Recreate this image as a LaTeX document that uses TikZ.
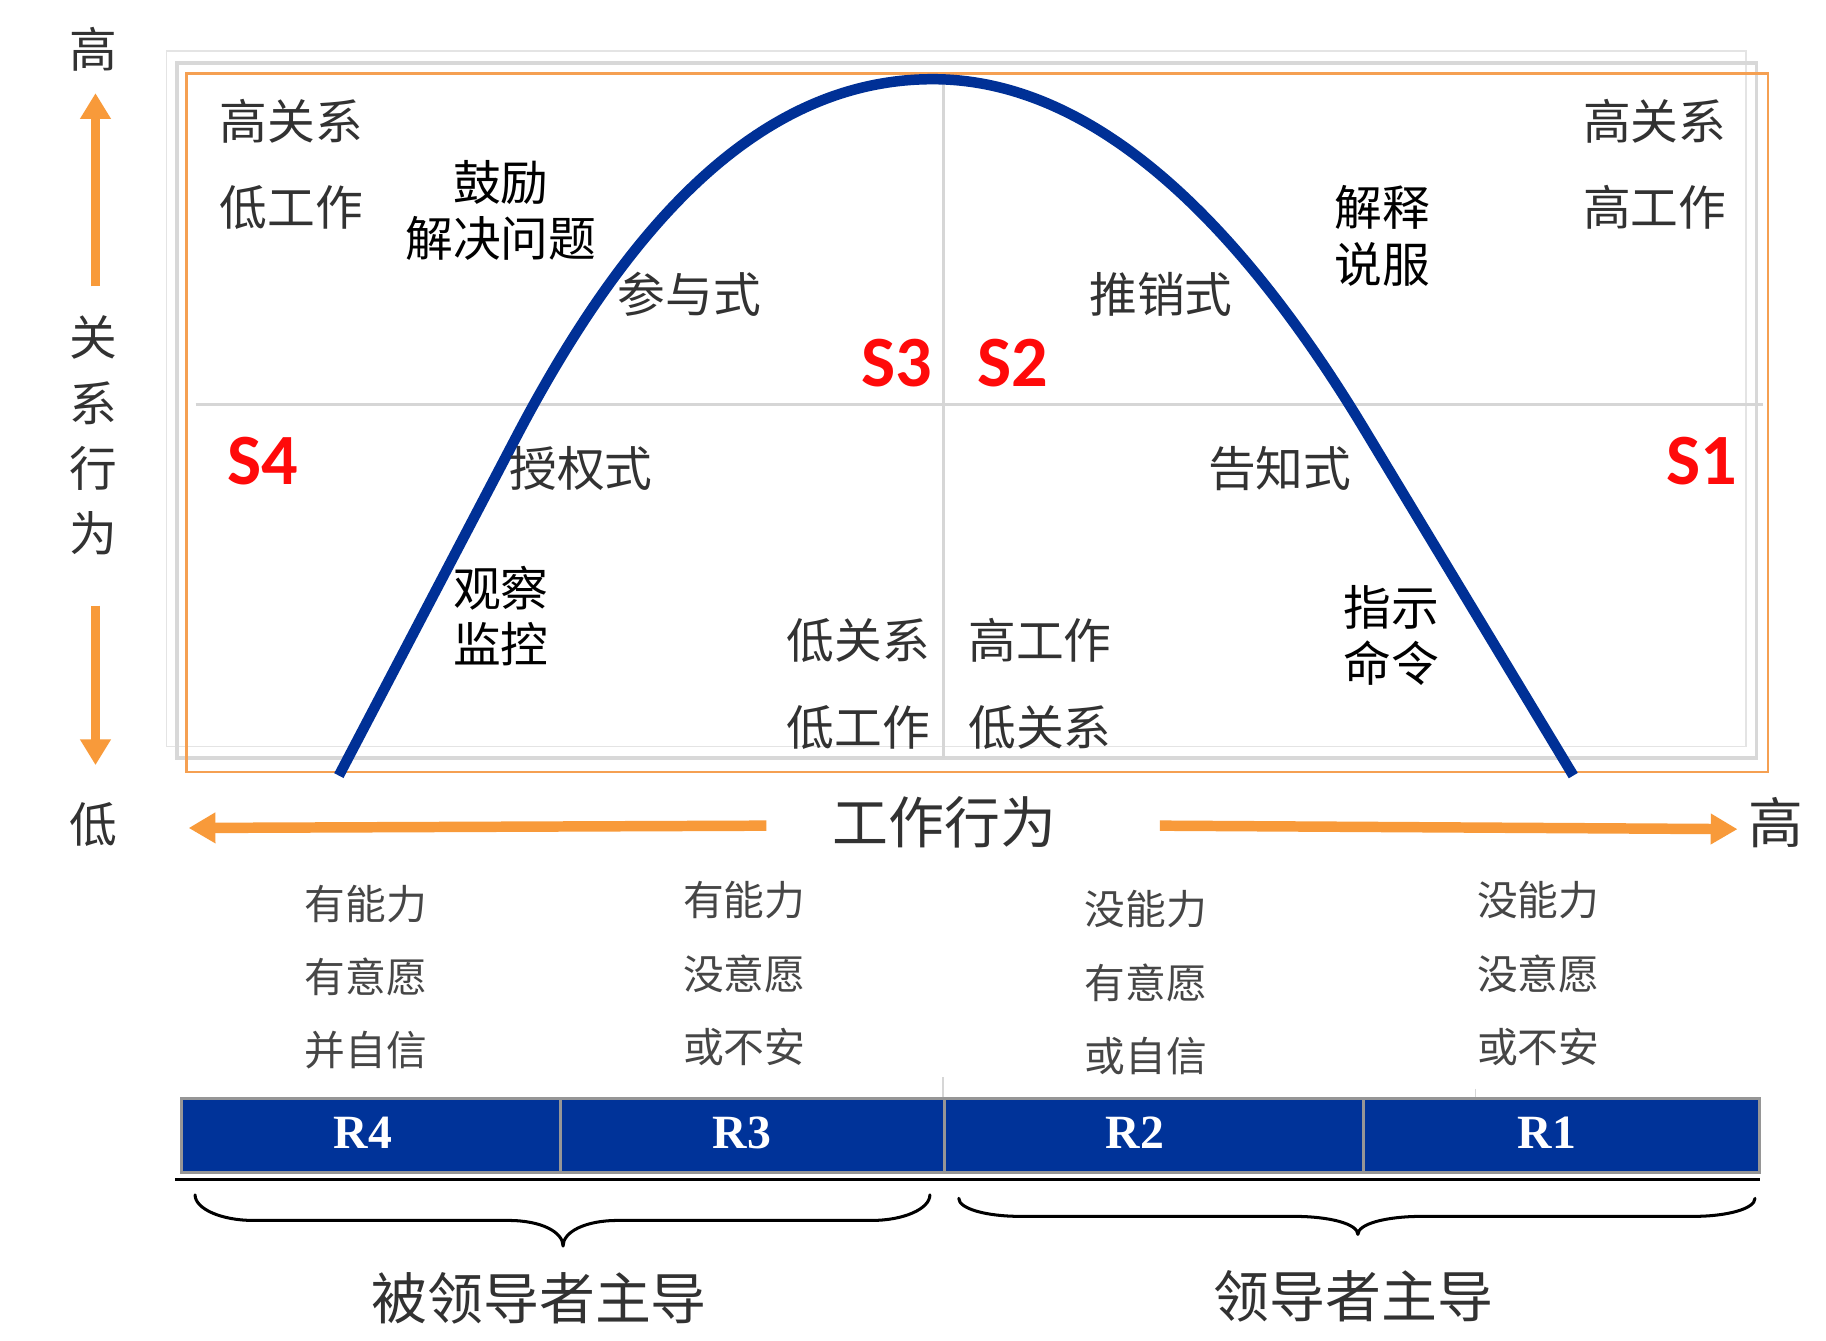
\documentclass[tikz,border=0pt]{standalone}
\usepackage{fontspec}
\usetikzlibrary{arrows.meta}
\newfontfamily\cjk{Noto Sans CJK SC}
\newfontfamily\sfnt{Carlito}
\newfontfamily\rfnt{Liberation Serif}
\definecolor{curveblue}{RGB}{0,48,150}
\definecolor{barblue}{RGB}{0,51,153}
\definecolor{barborder}{RGB}{150,150,150}
\definecolor{arroworange}{RGB}{248,154,58}
\definecolor{frameorange}{RGB}{245,160,82}
\definecolor{txtgray}{RGB}{50,50,50}
\definecolor{sred}{RGB}{255,10,10}
\definecolor{gridgray}{RGB}{214,214,214}
\definecolor{frameA}{RGB}{228,228,228}
\definecolor{frameB}{RGB}{216,216,216}
\begin{document}
\begin{tikzpicture}[x=1pt,y=-1pt,
  lab/.style={font=\cjk\fontsize{41}{41}\selectfont, text=txtgray, inner sep=0pt},
  blab/.style={font=\cjk\fontsize{41}{48}\selectfont, text=black, inner sep=0pt, align=center},
  small/.style={font=\cjk\fontsize{35}{63}\selectfont, text=txtgray!90, inner sep=0pt, align=center},
  big/.style={font=\cjk\fontsize{48}{48}\selectfont, text=txtgray, inner sep=0pt},
  slab/.style={font=\sfnt\bfseries\fontsize{62}{62}\selectfont, text=sred, inner sep=0pt},
  rlab/.style={font=\rfnt\bfseries\fontsize{41}{41}\selectfont, text=white, inner sep=0pt},
  rbar/.style={draw=barborder, line width=2.5pt, fill=barblue},
  oarrow/.style={draw=arroworange, line width=7.5pt, -{Triangle[width=25pt,length=22pt]}},
  harrow/.style={draw=arroworange, line width=9pt, -{Triangle[width=25pt,length=23pt]}},
  brace/.style={draw=black, line width=2.6pt, line cap=round, line join=round},
]
\useasboundingbox (0,0) rectangle (1568,1151);
\fill[white] (0,0) rectangle (1568,1151);

% frames and grid
\draw[frameA, line width=1.6pt] (143,44) rectangle (1499,641);
\draw[frameB, line width=2.8pt] (152,54) rectangle (1508,651);
\draw[gridgray, line width=2.6pt] (168,347) -- (1514,347);
\draw[gridgray, line width=2.6pt] (810,64) -- (810,651);
\draw[frameorange, line width=2.2pt] (160,63) rectangle (1518,663);

% curve
\draw[curveblue, line width=9pt, line join=round]
  (291,666) -- (445,372) .. controls (538.4,195) and (651,68) .. (801,68)
  .. controls (951,68) and (1076.6,212.1) .. (1170,366) -- (1351,666);

% axis arrows
\coordinate (upS) at (82,246); \coordinate (upE) at (82,80);
\coordinate (dnS) at (82,520); \coordinate (dnE) at (82,657);
\coordinate (lfS) at (658,709); \coordinate (lfE) at (162,711);
\coordinate (rtS) at (996,709); \coordinate (rtE) at (1492,712);
\draw[oarrow] (upS) -- (upE);
\draw[oarrow] (dnS) -- (dnE);
\draw[harrow] (lfS) -- (lfE);
\draw[harrow] (rtS) -- (rtE);

% axis labels
\node[lab] (yhi) at (80,42) {高};
\node[lab] (ylo) at (80,708) {低};
\node[lab, align=center, font=\cjk\fontsize{41}{56}\selectfont] (ylab) at (80,374) {关\\系\\行\\为};
\node[big] (xlab) at (811,706) {工作行为};
\node[lab, font=\cjk\fontsize{47}{47}\selectfont] (xhi) at (1525,706) {高};

% quadrant texts
\node[lab] (q4a) at (250,104) {高关系};
\node[lab] (q4b) at (250,178) {低工作};
\node[blab] (enc) at (430,181) {鼓励\\解决问题};
\node[lab] (s3n) at (592,253) {参与式};
\node[slab] (S3) at (770,312) {S3};
\node[slab] (S2) at (870,312) {S2};
\node[lab] (s2n) at (997,253) {推销式};
\node[blab, font=\cjk\fontsize{41}{49}\selectfont] (expl) at (1187,202.5) {解释\\说服};
\node[lab] (q1a) at (1421,104) {高关系};
\node[lab] (q1b) at (1421,178) {高工作};
\node[slab] (S4) at (226,396) {S4};
\node[slab] (S1) at (1461,396) {S1};
\node[lab] (s4n) at (499,402) {授权式};
\node[lab] (s1n) at (1099,402) {告知式};
\node[blab] (obs) at (430,529) {观察\\监控};
\node[lab] (q3a) at (737,550) {低关系};
\node[lab] (q3b) at (737,625) {低工作};
\node[lab] (q2a) at (893,550) {高工作};
\node[lab] (q2b) at (893,625) {低关系};
\node[blab] (dirc) at (1195,546) {指示\\命令};

% readiness texts
\node[small] (c4) at (314,839) {有能力\\有意愿\\并自信};
\node[small] (c3) at (639,836) {有能力\\没意愿\\或不安};
\node[small] (c2) at (984,844) {没能力\\有意愿\\或自信};
\node[small] (c1) at (1321,836) {没能力\\没意愿\\或不安};

% faint guide lines
\draw[gridgray, line width=1.5pt] (810,925) -- (810,943);
\draw[gridgray, line width=1pt] (1267,935) -- (1267,943);

% R bar
\draw[rbar] (155.5,943) rectangle (481,1007);
\draw[rbar] (481,943) rectangle (810.8,1007);
\draw[rbar] (810.8,943) rectangle (1171,1007);
\draw[rbar] (1171,943) rectangle (1510.6,1007);
\node[rlab] (R4) at (311.5,972.5) {R4};
\node[rlab] (R3) at (637,972.5) {R3};
\node[rlab] (R2) at (974.5,972.5) {R2};
\node[rlab] (R1) at (1328.5,972.5) {R1};
\draw[black, line width=3pt] (150.5,1013) -- (1511,1013);

% braces
\draw[brace] (167.5,1026) .. controls (167.5,1038) and (190,1048) .. (217.5,1048)
  -- (436.5,1048) .. controls (465,1048) and (483.5,1058) .. (483.5,1070)
  .. controls (483.5,1058) and (502,1048) .. (530.5,1048)
  -- (748.5,1048) .. controls (776,1048) and (798.5,1038) .. (798.5,1026);
\draw[brace] (823.3,1029) .. controls (823.3,1038) and (847,1044.5) .. (876.3,1044.5)
  -- (1111,1044.5) .. controls (1142,1044.5) and (1166,1051) .. (1166,1060)
  .. controls (1166,1051) and (1190,1044.5) .. (1221,1044.5)
  -- (1454,1044.5) .. controls (1483,1044.5) and (1507,1038) .. (1507,1029);
\node[big] (fol) at (463,1115) {被领导者主导};
\node[big] (lead) at (1162,1113) {领导者主导};
\end{tikzpicture}
\end{document}
